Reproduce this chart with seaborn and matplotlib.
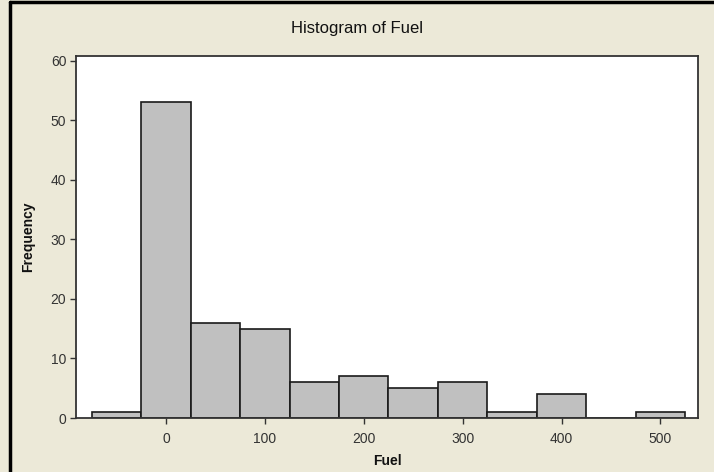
import numpy as np
import pandas as pd
import matplotlib
matplotlib.use('Agg')
import matplotlib.pyplot as plt
import seaborn as sns
from matplotlib.lines import Line2D

# bin centres and counts
bin_centers = [-50, 0, 50, 100, 150, 200, 250, 300, 350, 400, 450, 500]
counts = [1, 53, 16, 15, 6, 7, 5, 6, 1, 4, 0, 1]
bin_width = 50
x_ticks = [0, 100, 200, 300, 400, 500]
y_ticks = [0, 10, 20, 30, 40, 50, 60]

df = pd.DataFrame({'Fuel': bin_centers, 'n': counts})
edges = list(np.arange(bin_centers[0] - bin_width / 2, bin_centers[-1] + bin_width, bin_width))

sns.set_style('white')
plt.rcParams['font.family'] = ['Liberation Sans', 'DejaVu Sans']

bg = '#ECE9D8'
fig = plt.figure(figsize=(7.14, 4.72), dpi=100, facecolor=bg)
ax = fig.add_axes([76 / 714, 54 / 472, 622 / 714, 362 / 472])
ax.set_facecolor('white')

sns.histplot(data=df, x='Fuel', weights='n', bins=edges, ax=ax,
             color='#C0C0C0', edgecolor='#1a1a1a', linewidth=1.2, alpha=1)

ax.set_xlim(-91, 538)
ax.set_ylim(0, 60.8)
ax.set_xticks(x_ticks)
ax.set_yticks(y_ticks)
ax.tick_params(axis='both', direction='out', length=4, width=1, color='#333333',
               labelsize=10, labelcolor='#333333', bottom=True, left=True)
ax.tick_params(axis='x', pad=6)
ax.tick_params(axis='y', pad=3)
for s in ax.spines.values():
    s.set_color('#333333')
    s.set_linewidth(1.3)

ax.set_xlabel('Fuel', fontsize=10, fontweight='bold', color='#111111', labelpad=6)
ax.set_ylabel('Frequency', fontsize=10, fontweight='bold', color='#111111', labelpad=11)
fig.text(0.5, 1 - 28 / 472, 'Histogram of Fuel', ha='center', va='center',
         fontsize=12, color='#111111')

# window frame (left and top black edges)
fig.add_artist(Line2D([10 / 714, 10 / 714], [0, 1 - 2 / 472], color='black', linewidth=2.5))
fig.add_artist(Line2D([10 / 714, 1], [1 - 2 / 472, 1 - 2 / 472], color='black', linewidth=2.5))

fig.savefig('out.png', dpi=100, facecolor=bg)
